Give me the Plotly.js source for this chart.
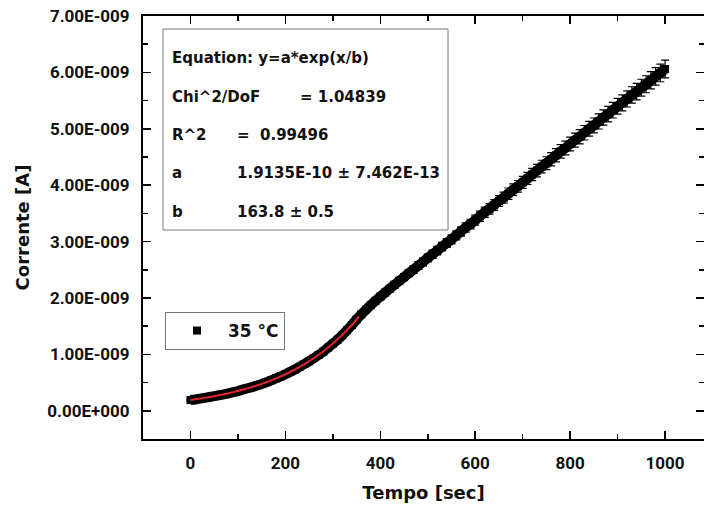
<!DOCTYPE html>
<html>
<head>
<meta charset="utf-8">
<script src="https://cdn.plot.ly/plotly-3.0.1.min.js"></script>
<style>html,body{margin:0;padding:0;background:#fff;}#chart{width:704px;height:509px;}</style>
</head>
<body>
<div id="chart"></div>
<script>
// Measured data (time in s, current in nA)
const timeSec = [0,10,20,30,40,50,60,70,80,90,100,110,120,130,140,150,160,170,180,190,200,210,220,230,240,250,260,270,280,290,300,310,320,330,340,350,360,370,380,390,400,410,420,430,440,450,460,470,480,490,500,510,520,530,540,550,560,570,580,590,600,610,620,630,640,650,660,670,680,690,700,710,720,730,740,750,760,770,780,790,800,810,820,830,840,850,860,870,880,890,900,910,920,930,940,950,960,970,980,990,1000];
const currentNA = [0.19,0.20,0.215,0.23,0.245,0.26,0.275,0.29,0.31,0.33,0.35,0.375,0.40,0.42,0.45,0.475,0.505,0.54,0.575,0.61,0.65,0.69,0.73,0.78,0.83,0.88,0.935,0.99,1.05,1.12,1.19,1.26,1.34,1.43,1.52,1.62,1.71,1.795,1.875,1.95,2.025,2.095,2.165,2.235,2.305,2.37,2.44,2.505,2.575,2.64,2.71,2.775,2.84,2.91,2.975,3.04,3.11,3.18,3.25,3.31,3.38,3.45,3.52,3.58,3.65,3.72,3.78,3.85,3.92,3.98,4.05,4.12,4.19,4.26,4.33,4.39,4.46,4.53,4.60,4.66,4.73,4.80,4.86,4.93,5.00,5.06,5.13,5.20,5.26,5.33,5.40,5.46,5.53,5.60,5.66,5.73,5.79,5.86,5.93,5.99,6.06];

// Exponential fit curve (red)
const fitTime = [0,10,20,30,40,50,60,70,80,90,100,110,120,130,140,150,160,170,180,190,200,210,220,230,240,250,260,270,280,290,300,310,320,330,340,350,355];
const fitNA = [0.191,0.203,0.216,0.229,0.244,0.259,0.275,0.293,0.311,0.331,0.352,0.374,0.397,0.422,0.449,0.477,0.507,0.539,0.573,0.609,0.648,0.688,0.732,0.778,0.827,0.879,0.934,0.993,1.055,1.122,1.192,1.268,1.347,1.432,1.522,1.618,1.668];

const yTickVals = [0,1e-9,2e-9,3e-9,4e-9,5e-9,6e-9,7e-9];
const yTickText = ["0.00E+000","1.00E-009","2.00E-009","3.00E-009","4.00E-009","5.00E-009","6.00E-009","7.00E-009"];

const seriesName = "35 °C";
const fitLabels = ["Equation: y=a*exp(x/b)","Chi^2/DoF","R^2","a","b"];
const fitValues = ["","= 1.04839","=  0.99496","1.9135E-10 ± 7.462E-13","163.8 ± 0.5"];

const NUMFONT = "Roboto, 'Liberation Sans', Arial, sans-serif";
const TXTFONT = "'DejaVu Sans', 'Liberation Sans', Arial, sans-serif";
const toA = v => v * 1e-9;
const yA = currentNA.map(toA);

const traces = [
  { // dense band of overlapping points
    x: timeSec, y: yA, type: 'scatter', mode: 'lines',
    line: {color: '#000', width: 10, simplify: false}, showlegend: false, hoverinfo: 'skip'
  },
  {
    x: timeSec, y: yA, type: 'scatter', mode: 'markers', name: seriesName,
    marker: {symbol: 'square', size: 8, color: '#000'},
    error_y: {type: 'percent', value: 2.6, color: '#000', thickness: 1.2, width: 4},
    showlegend: true
  },
  {
    x: fitTime, y: fitNA.map(toA), type: 'scatter', mode: 'lines',
    line: {color: '#e3242b', width: 2, simplify: false}, showlegend: false
  }
];

const axisCommon = {
  showline: true, linecolor: '#000', linewidth: 2, mirror: 'allticks',
  ticks: 'inside', ticklen: 8, tickwidth: 1.5, tickcolor: '#000',
  showgrid: false, zeroline: false,
  tickfont: {family: NUMFONT, size: 17, color: '#111', weight: 'bold'}
};

const annotations = [];
const rowY = [58, 97, 135, 173, 212];
const valX = [null, 300, 237, 237, 237];
const plotL = 143, plotT = 16, plotW = 561, plotH = 423;
const px = v => (v - plotL) / plotW;
const py = v => 1 - (v - plotT) / plotH;
const boxFont = {family: TXTFONT, size: 15, color: '#111', weight: 'bold'};
fitLabels.forEach((t, i) => {
  annotations.push({xref: 'paper', yref: 'paper', x: px(170), y: py(rowY[i]), xanchor: 'left', yanchor: 'middle',
    text: t, showarrow: false, font: boxFont});
  if (fitValues[i]) annotations.push({xref: 'paper', yref: 'paper', x: px(valX[i] - 2), y: py(rowY[i]), xanchor: 'left', yanchor: 'middle',
    text: fitValues[i], showarrow: false, font: boxFont});
});

const layout = {
  width: 704, height: 509,
  margin: {l: plotL, r: 0, t: plotT, b: 509 - plotT - plotH},
  paper_bgcolor: '#fff', plot_bgcolor: '#fff',
  font: {family: TXTFONT, color: '#111'},
  xaxis: Object.assign({}, axisCommon, {
    range: [-100, 1082], tickmode: 'linear', tick0: 0, dtick: 200,
    minor: {tickmode: 'linear', tick0: 0, dtick: 100, ticks: 'inside', ticklen: 5, tickwidth: 1.5, tickcolor: '#000'},
    ticklabelstandoff: 8,
    title: {text: 'Tempo [sec]', font: {family: TXTFONT, size: 18, color: '#111', weight: 'bold'}, standoff: 14}
  }),
  yaxis: Object.assign({}, axisCommon, {
    range: [-0.5e-9, 7e-9], tickmode: 'array', tickvals: yTickVals, ticktext: yTickText,
    minor: {tickmode: 'linear', tick0: 0, dtick: 0.5e-9, ticks: 'inside', ticklen: 5, tickwidth: 1.5, tickcolor: '#000'},
    ticklabelstandoff: 8,
    title: {text: 'Corrente [A]', font: {family: TXTFONT, size: 18, color: '#111', weight: 'bold'}, standoff: 13}
  }),
  legend: {
    x: px(165), y: py(312), xanchor: 'left', yanchor: 'top',
    bordercolor: '#777', borderwidth: 1, bgcolor: '#fff', itemwidth: 52,
    font: {family: TXTFONT, size: 17, color: '#111', weight: 'bold'}
  },
  shapes: [{type: 'rect', xref: 'paper', yref: 'paper', x0: px(163), x1: px(448), y0: py(29), y1: py(230),
    line: {color: '#777', width: 1}, fillcolor: 'rgba(255,255,255,0)'}],
  annotations: annotations,
  showlegend: true
};

Plotly.newPlot('chart', traces, layout, {staticPlot: true, displayModeBar: false});
</script>
</body>
</html>
